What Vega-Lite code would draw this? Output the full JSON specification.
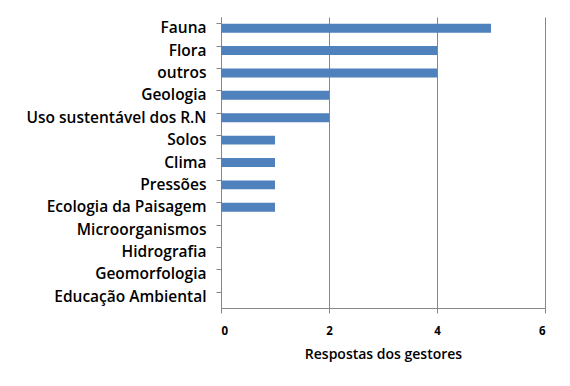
{
  "$schema": "https://vega.github.io/schema/vega-lite/v6.json",
  "autosize": {"type": "none"},
  "width": 324,
  "height": 291,
  "padding": {"left": 221, "top": 17, "right": 25, "bottom": 78},
  "background": "white",
  "data": {"values": [
    {"tema": "Fauna", "respostas": 5},
    {"tema": "Flora", "respostas": 4},
    {"tema": "outros", "respostas": 4},
    {"tema": "Geologia", "respostas": 2},
    {"tema": "Uso sustentável dos R.N", "respostas": 2},
    {"tema": "Solos", "respostas": 1},
    {"tema": "Clima", "respostas": 1},
    {"tema": "Pressões", "respostas": 1},
    {"tema": "Ecologia da Paisagem", "respostas": 1},
    {"tema": "Microorganismos", "respostas": 0},
    {"tema": "Hidrografia", "respostas": 0},
    {"tema": "Geomorfologia", "respostas": 0},
    {"tema": "Educação Ambiental", "respostas": 0}
  ]},
  "mark": {"type": "bar", "color": "#4F81BD"},
  "encoding": {
    "y": {
      "field": "tema", "type": "nominal", "sort": null, "title": null,
      "scale": {"paddingInner": 0.6, "paddingOuter": 0.3},
      "axis": {
        "bandPosition": 0, "domainColor": "#868686", "tickColor": "#868686",
        "tickSize": 5, "labelPadding": 10, "labelFont": "Open Sans", "labelFontWeight": 600,
        "labelFontSize": 15.5, "labelLimit": 300, "labelColor": "#000000", "grid": false
      }
    },
    "x": {
      "field": "respostas", "type": "quantitative", "title": "Respostas dos gestores",
      "scale": {"domain": [0, 6]},
      "axis": {
        "values": [0, 2, 4, 6], "grid": true, "gridColor": "#868686", "domainColor": "#868686",
        "tickColor": "#868686", "tickSize": 5, "labelPadding": 12, "labelFont": "Open Sans",
        "labelFontWeight": "bold", "labelFontSize": 11.5, "labelColor": "#000000",
        "titleFont": "Open Sans", "titleFontWeight": 600, "titleFontSize": 14, "titleColor": "#000000",
        "titlePadding": 11
      }
    }
  },
  "config": {"view": {"stroke": null}}
}
